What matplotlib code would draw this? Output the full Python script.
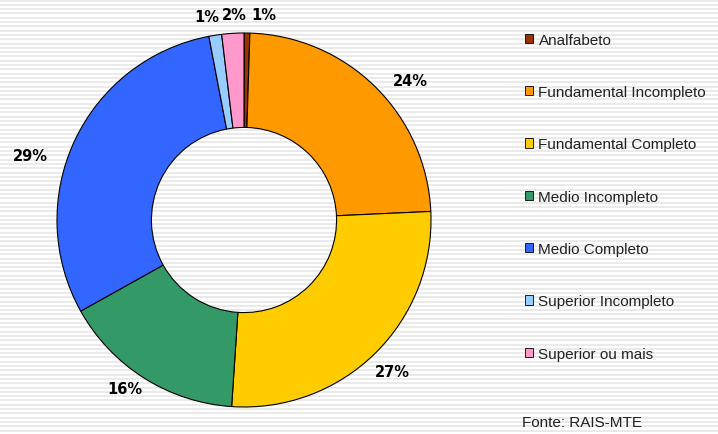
import matplotlib
matplotlib.use("Agg")
import matplotlib.pyplot as plt
import matplotlib.patches as mpatches
import numpy as np

# escolaridade (RAIS-MTE)
categorias = ["Analfabeto", "Fundamental Incompleto", "Fundamental Completo",
              "Medio Incompleto", "Medio Completo", "Superior Incompleto",
              "Superior ou mais"]
valores = [0.5, 23.7, 26.7, 15.8, 30.0, 1.1, 1.9]
rotulos = ["1%", "24%", "27%", "16%", "29%", "1%", "2%"]
cores = ["#993300", "#FF9900", "#FFCC00", "#339966", "#3366FF", "#99CCFF", "#FF99CC"]

W, H = 718, 435
fig = plt.figure(figsize=(W / 100, H / 100), dpi=100)
fig.patch.set_facecolor("white")

# fundo listrado
bg = fig.add_axes([0, 0, 1, 1])
bg.set_xlim(0, W)
bg.set_ylim(H, 0)
bg.axis("off")
for y in np.arange(1.5, H, 4.3):
    bg.axhline(y, color="#eaeaea", lw=1.4)

# rosca
ax = fig.add_axes([57 / W, (H - 408) / H, 374 / W, 374 / H])
wedges, _ = ax.pie(valores, colors=cores, startangle=90, counterclock=False,
                   radius=1.0, wedgeprops=dict(width=0.505, edgecolor="black", linewidth=0.8))
ax.set_xlim(-1, 1)
ax.set_ylim(-1, 1)
ax.set_aspect("equal")

# posições dos rótulos (pixels da figura)
pos_rotulos = [(264, 16), (410, 82), (392, 373), (125, 390), (30, 157), (207, 18), (234, 16)]
for txt, (x, y) in zip(rotulos, pos_rotulos):
    fig.text(x / W, 1 - y / H, txt, ha="center", va="center",
             fontsize=10.5, fontweight="bold", family="DejaVu Sans", color="black")

# legenda
handles = [mpatches.Patch(facecolor=c, edgecolor="black", linewidth=0.6) for c in cores]
leg = fig.legend(handles, categorias, loc="upper left", bbox_to_anchor=(511 / W, 1 - 20 / H),
                 frameon=False, handlelength=0.55, handleheight=0.55, handletextpad=0.35,
                 labelspacing=2.51, prop={"family": "Liberation Sans", "size": 11})
for t in leg.get_texts():
    t.set_color("#222222")

fig.text(522 / W, 1 - 423 / H, "Fonte: RAIS-MTE", ha="left", va="center",
         fontsize=11, family="Liberation Sans", color="#222222")

fig.savefig("out.png", dpi=100, facecolor="white")
